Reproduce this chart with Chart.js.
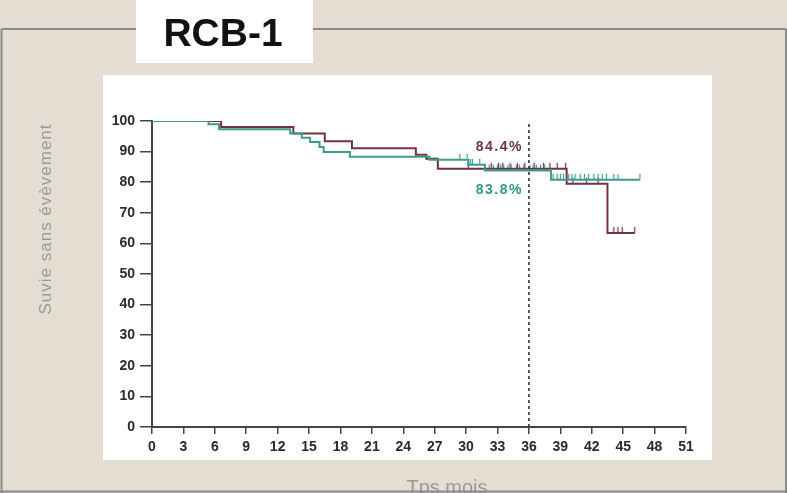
<!DOCTYPE html>
<html>
<head>
<meta charset="utf-8">
<script src="https://cdn.jsdelivr.net/npm/chart.js@4/dist/chart.umd.min.js"></script>
<style>
  html, body { margin: 0; padding: 0; background: #e4ddd2; }
  canvas { display: block; }
</style>
</head>
<body>
<canvas id="myChart" width="787" height="493"></canvas>
<script>
// courbes de survie (mois, %)
const redTimes = [0, 6.6, 13.5, 16.5, 19.1, 25.2, 26.2, 27.3, 39.6, 43.5, 46.1];
const redSurv  = [100, 98.0, 95.9, 93.4, 91.1, 89.0, 87.7, 84.4, 79.5, 63.4, 63.4];
const greenTimes = [0, 5.4, 6.4, 13.2, 14.3, 15.1, 16.0, 16.4, 18.9, 26.5, 30.2, 31.8, 38.1, 46.6];
const greenSurv  = [100, 98.9, 97.3, 95.9, 94.5, 93.1, 91.5, 89.9, 88.3, 87.3, 85.7, 83.8, 80.8, 80.8];

// patients censurés (mois)
const redCensor = [30.2, 32.4, 33.1, 33.5, 34.2, 34.9, 35.6, 36.5, 37.4, 38.0, 38.7, 39.5,
                   40.2, 41.5, 42.6, 44.1, 44.5, 44.9, 46.1];
const greenCensor = [29.4, 30.1, 30.4, 30.6, 31.3, 32.2, 32.6, 33.0, 33.3, 33.6, 34.0, 34.3,
                     34.8, 35.1, 35.5, 36.1, 36.4, 36.7, 37.1, 37.5, 38.3, 38.7, 39.0, 39.3,
                     39.8, 40.1, 40.4, 40.9, 41.3, 41.7, 42.2, 42.6, 43.0, 43.4, 44.1, 44.5, 46.6];

const xTicks = [0, 3, 6, 9, 12, 15, 18, 21, 24, 27, 30, 33, 36, 39, 42, 45, 48, 51];
const yTicks = [0, 10, 20, 30, 40, 50, 60, 70, 80, 90, 100];
const landmark = 36;
const redLabel = "84.4%";
const greenLabel = "83.8%";

const RED = "#723244";
const GREEN = "#3c9c8c";

function survAt(times, surv, t) {
    let s = surv[0];
    times.forEach((tt, i) => { if (tt <= t) s = surv[i]; });
    return s;
}

function makeTick(color) {
    const c = document.createElement("canvas");
    c.width = 3; c.height = 14;
    const g = c.getContext("2d");
    g.strokeStyle = color;
    g.lineWidth = 1.2;
    g.beginPath();
    g.moveTo(1.5, 1);
    g.lineTo(1.5, 7);
    g.stroke();
    return c;
}

const toPoints = (times, surv) => times.map((t, i) => ({ x: t, y: surv[i] }));

const decor = {
    id: "decor",
    beforeDraw(chart) {
        const ctx = chart.ctx;
        ctx.save();
        ctx.fillStyle = "#e4ddd2";
        ctx.fillRect(0, 0, 787, 493);

        // titre axe x (coupé en bas)
        ctx.fillStyle = "#9a9a9a";
        ctx.font = "20px 'Liberation Sans', Arial, sans-serif";
        ctx.textAlign = "center";
        ctx.textBaseline = "alphabetic";
        ctx.fillText("Tps mois", 447, 494);

        // titre axe y
        ctx.save();
        ctx.translate(51, 219);
        ctx.rotate(-Math.PI / 2);
        ctx.letterSpacing = "1px";
        ctx.font = "17px 'Liberation Sans', Arial, sans-serif";
        ctx.fillText("Suvie sans évèvement", 0, 0);
        ctx.restore();

        // cadre
        ctx.strokeStyle = "#8a8a8a";
        ctx.lineWidth = 2;
        ctx.beginPath();
        ctx.moveTo(1.5, 29); ctx.lineTo(786, 29);
        ctx.moveTo(1.5, 29); ctx.lineTo(1.5, 493);
        ctx.moveTo(786, 29); ctx.lineTo(786, 493);
        ctx.moveTo(0, 491.5); ctx.lineTo(787, 491.5);
        ctx.stroke();

        // panneau blanc
        ctx.fillStyle = "#ffffff";
        ctx.fillRect(103, 75, 609, 385);

        // boite du titre
        ctx.fillRect(136, 0, 177, 63);
        ctx.fillStyle = "#111111";
        ctx.font = "bold 39px 'Liberation Sans', Arial, sans-serif";
        ctx.fillText("RCB-1", 223, 46);
        ctx.restore();
    },
    afterDatasetsDraw(chart) {
        const ctx = chart.ctx;
        const x = chart.scales.x.getPixelForValue(landmark) - 6;
        ctx.save();
        ctx.letterSpacing = "1.5px";
        ctx.font = "bold 14px 'Liberation Sans', Arial, sans-serif";
        ctx.textAlign = "right";
        ctx.textBaseline = "middle";
        ctx.fillStyle = RED;
        ctx.fillText(redLabel, x, 147);
        ctx.fillStyle = "#2e9a86";
        ctx.fillText(greenLabel, x, 190);
        ctx.restore();
    }
};

const tickFont = { family: "'Liberation Sans', Arial, sans-serif", size: 14, weight: "bold" };

new Chart(document.getElementById("myChart"), {
    type: "line",
    data: {
        datasets: [
            {
                data: [{ x: landmark, y: 0 }, { x: landmark, y: 101 }],
                borderColor: "#333333",
                borderWidth: 1.6,
                borderDash: [3, 3],
                pointRadius: 0
            },
            {
                data: toPoints(greenTimes, greenSurv),
                stepped: "before",
                borderColor: GREEN,
                borderWidth: 2,
                pointRadius: 0
            },
            {
                data: toPoints(redTimes, redSurv),
                stepped: "before",
                borderColor: RED,
                borderWidth: 2,
                pointRadius: 0
            },
            {
                data: greenCensor.map(t => ({ x: t, y: survAt(greenTimes, greenSurv, t) })),
                showLine: false,
                pointStyle: makeTick(GREEN),
                pointRadius: 4
            },
            {
                data: redCensor.map(t => ({ x: t, y: survAt(redTimes, redSurv, t) })),
                showLine: false,
                pointStyle: makeTick(RED),
                pointRadius: 4
            }
        ]
    },
    options: {
        responsive: false,
        animation: false,
        layout: { padding: { left: 0, right: 101, top: 121, bottom: 0 } },
        plugins: { legend: { display: false }, tooltip: { enabled: false } },
        scales: {
            x: {
                type: "linear",
                min: 0,
                max: 51,
                afterBuildTicks: s => { s.ticks = xTicks.map(v => ({ value: v })); },
                afterFit: s => { s.height = 66; },
                ticks: { font: tickFont, color: "#2a2a2a", padding: 5, maxRotation: 0 },
                grid: { drawOnChartArea: false, drawTicks: true, tickLength: 7, color: "#444", lineWidth: 1.5 },
                border: { display: true, color: "#444", width: 2 }
            },
            y: {
                min: 0,
                max: 100,
                afterBuildTicks: s => { s.ticks = yTicks.map(v => ({ value: v })); },
                afterFit: s => { s.width = 152; },
                ticks: { font: tickFont, color: "#2a2a2a", padding: 5 },
                grid: { drawOnChartArea: false, drawTicks: true, tickLength: 12, color: "#444", lineWidth: 1.5 },
                border: { display: true, color: "#444", width: 2 }
            }
        }
    },
    plugins: [decor]
});
</script>
</body>
</html>
